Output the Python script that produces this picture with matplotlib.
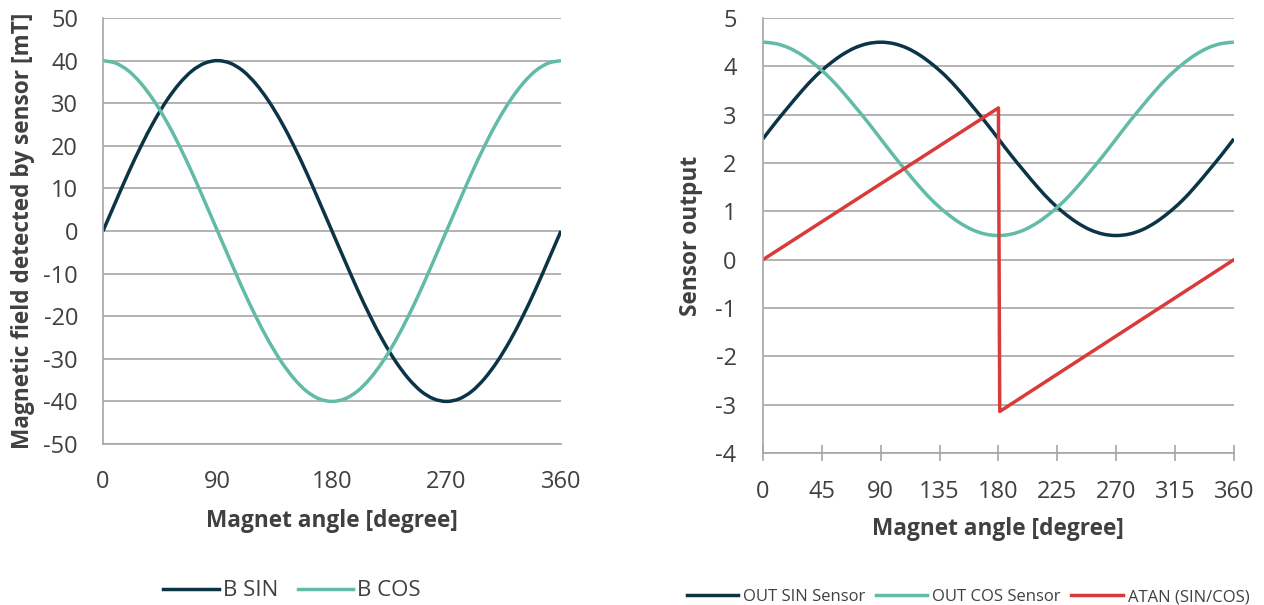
import matplotlib
matplotlib.use("Agg")
import matplotlib.pyplot as plt
from matplotlib.path import Path
from matplotlib.patches import PathPatch

plt.rcParams['font.family'] = ['Open Sans', 'DejaVu Sans']
plt.rcParams['axes.unicode_minus'] = False

# values, every 10 degrees
angle = [0, 10, 20, 30, 40, 50, 60, 70, 80, 90, 100, 110, 120, 130, 140, 150, 160, 170, 180,
         190, 200, 210, 220, 230, 240, 250, 260, 270, 280, 290, 300, 310, 320, 330, 340, 350, 360]

b_sin = [0, 6.9, 13.7, 20.0, 25.7, 30.6, 34.6, 37.6, 39.4, 40.0, 39.4, 37.6, 34.6, 30.6, 25.7, 20.0, 13.7, 6.9, 0,
         -6.9, -13.7, -20.0, -25.7, -30.6, -34.6, -37.6, -39.4, -40.0, -39.4, -37.6, -34.6, -30.6, -25.7, -20.0, -13.7, -6.9, 0]
b_cos = [40.0, 39.4, 37.6, 34.6, 30.6, 25.7, 20.0, 13.7, 6.9, 0, -6.9, -13.7, -20.0, -25.7, -30.6, -34.6, -37.6, -39.4, -40.0,
         -39.4, -37.6, -34.6, -30.6, -25.7, -20.0, -13.7, -6.9, 0, 6.9, 13.7, 20.0, 25.7, 30.6, 34.6, 37.6, 39.4, 40.0]

out_sin = [2.5, 2.85, 3.18, 3.5, 3.79, 4.03, 4.23, 4.38, 4.47, 4.5, 4.47, 4.38, 4.23, 4.03, 3.79, 3.5, 3.18, 2.85, 2.5,
           2.15, 1.82, 1.5, 1.21, 0.97, 0.77, 0.62, 0.53, 0.5, 0.53, 0.62, 0.77, 0.97, 1.21, 1.5, 1.82, 2.15, 2.5]
out_cos = [4.5, 4.47, 4.38, 4.23, 4.03, 3.79, 3.5, 3.18, 2.85, 2.5, 2.15, 1.82, 1.5, 1.21, 0.97, 0.77, 0.62, 0.53, 0.5,
           0.53, 0.62, 0.77, 0.97, 1.21, 1.5, 1.82, 2.15, 2.5, 2.85, 3.18, 3.5, 3.79, 4.03, 4.23, 4.38, 4.47, 4.5]

atan_angle = [0, 180, 181, 360]
atan_val = [0, 3.14, -3.14, 0]

navy = '#0b3447'
teal = '#62bba6'
red = '#d93b3b'
grid_c = '#a6a6a6'
txt = '#404040'
LW = 2.5


def smooth_line(ax, x, y, color, label):
    # Excel-style "smoothed line": cubic bezier through the data points
    n = len(x)
    verts = [(x[0], y[0])]
    codes = [Path.MOVETO]
    for i in range(n - 1):
        i0 = max(i - 1, 0)
        i3 = min(i + 2, n - 1)
        c1 = (x[i] + (x[i + 1] - x[i0]) / 6, y[i] + (y[i + 1] - y[i0]) / 6)
        c2 = (x[i + 1] - (x[i3] - x[i]) / 6, y[i + 1] - (y[i3] - y[i]) / 6)
        verts += [c1, c2, (x[i + 1], y[i + 1])]
        codes += [Path.CURVE4] * 3
    ax.add_patch(PathPatch(Path(verts, codes), fill=False, edgecolor=color, lw=LW))
    ax.plot([], [], color=color, lw=LW, label=label)


fig = plt.figure(figsize=(12.64, 6.05), dpi=100)
ax1 = fig.add_axes([0.0815, 0.2661, 0.3623, 0.7041])
ax2 = fig.add_axes([0.6036, 0.2512, 0.3726, 0.719])

# left chart
smooth_line(ax1, angle, b_sin, navy, 'B SIN')
smooth_line(ax1, angle, b_cos, teal, 'B COS')
ax1.set_xlim(0, 360)
ax1.set_ylim(-50, 50)
ax1.set_xticks([0, 90, 180, 270, 360])
ax1.set_yticks(range(-50, 51, 10))
ax1.set_xlabel('Magnet angle [degree]', fontsize=16.3, fontweight='bold', color=txt, labelpad=11)
ax1.set_ylabel('Magnetic field detected by sensor [mT]', fontsize=16.3, fontweight='bold', color=txt, labelpad=6)
ax1.tick_params(axis='x', length=0, pad=18.5, labelsize=17, labelcolor=txt)
ax1.tick_params(axis='y', length=0, pad=18, labelsize=17, labelcolor=txt)

# right chart
smooth_line(ax2, angle, out_sin, navy, 'OUT SIN Sensor')
smooth_line(ax2, angle, out_cos, teal, 'OUT COS Sensor')
ax2.plot(atan_angle, atan_val, color=red, lw=LW, label='ATAN (SIN/COS)')
ax2.set_xlim(0, 360)
ax2.set_ylim(-4, 5)
ax2.set_xticks(range(0, 361, 45))
ax2.set_yticks(range(-4, 6))
ax2.set_xlabel('Magnet angle [degree]', fontsize=16.3, fontweight='bold', color=txt, labelpad=9.5)
ax2.set_ylabel('Sensor output', fontsize=16.3, fontweight='bold', color=txt, labelpad=9)
ax2.tick_params(axis='x', direction='inout', length=11, width=1.2, color=grid_c, pad=14,
                labelsize=17, labelcolor=txt)
ax2.tick_params(axis='y', length=0, pad=19, labelsize=17, labelcolor=txt)

for ax in (ax1, ax2):
    ax.grid(axis='y', color=grid_c, lw=1.2)
    ax.set_axisbelow(True)
    ax.spines['top'].set_visible(False)
    ax.spines['right'].set_visible(False)
    ax.spines['left'].set_color(grid_c)
    ax.spines['bottom'].set_color(grid_c)
    ax.spines['left'].set_linewidth(1.2)
    ax.spines['bottom'].set_linewidth(1.2)

ax1.legend(loc='center', bbox_to_anchor=(292 / 1264, 1 - 591 / 605), bbox_transform=fig.transFigure,
           ncol=2, frameon=False, fontsize=16, labelcolor=txt, handlelength=2.5, handletextpad=0.18,
           columnspacing=0.9)
ax2.legend(loc='center', bbox_to_anchor=(968 / 1264, 1 - 597 / 605), bbox_transform=fig.transFigure,
           ncol=3, frameon=False, fontsize=12, labelcolor=txt, handlelength=3.1, handletextpad=0.3,
           columnspacing=0.6)

fig.savefig('out.png', dpi=100)
